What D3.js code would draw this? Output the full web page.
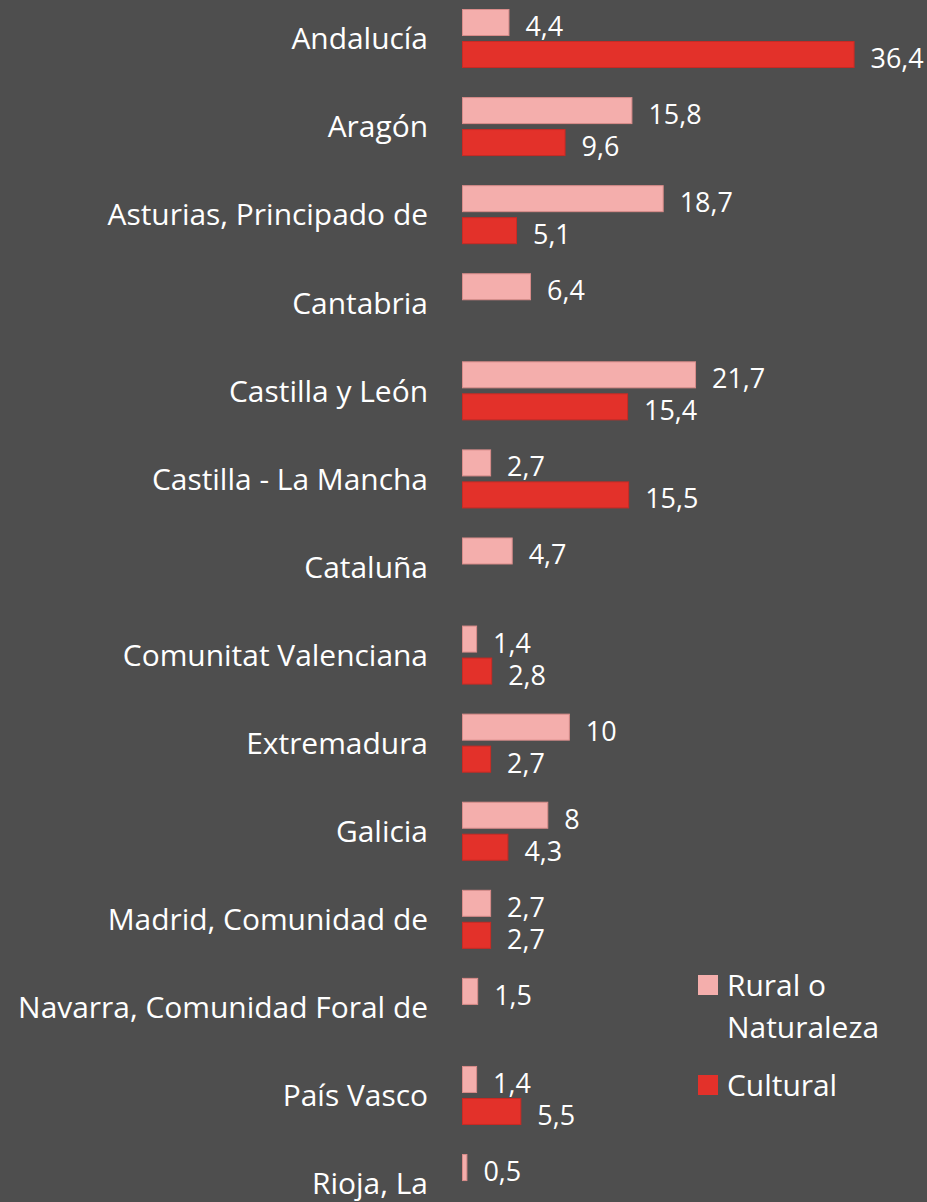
<!DOCTYPE html>
<html><head><meta charset="utf-8">
<script src="https://cdn.jsdelivr.net/npm/d3@7"></script>
<style>
html,body{margin:0;padding:0;background:#4e4e4e;}
svg{display:block;}
text{font-family:"Open Sans","Noto Sans",sans-serif;fill:#ffffff;}
</style></head>
<body>
<svg id="chart" width="927" height="1202"></svg>
<script>
const categories = ["Andalucía","Aragón","Asturias, Principado de","Cantabria","Castilla y León","Castilla - La Mancha","Cataluña","Comunitat Valenciana","Extremadura","Galicia","Madrid, Comunidad de","Navarra, Comunidad Foral de","País Vasco","Rioja, La"];
const seriesNames = ["Rural o Naturaleza","Cultural"];
const rural = [4.4,15.8,18.7,6.4,21.7,2.7,4.7,1.4,10,8,2.7,1.5,1.4,0.5];
const cultural = [36.4,9.6,5.1,null,15.4,15.5,null,2.8,2.7,4.3,2.7,null,5.5,null];
const colors = ["#f4aeac","#e3312a"];
const strokes = ["#d98c8a","#c92a24"];

const svg = d3.select("#chart");
const W = 927, H = 1202;
svg.append("rect").attr("width",W).attr("height",H).attr("fill","#4e4e4e");

const step = 88.08;
const y = d3.scaleBand().domain(categories)
  .range([9 - 0.165*step, 9 - 0.165*step + categories.length*step])
  .paddingInner(0.33).paddingOuter(0.165);
const ySub = d3.scaleBand().domain(seriesNames).range([0, y.bandwidth()]).paddingInner(0.156);
const x = d3.scaleLinear().domain([0,40]).range([462, 462 + 40*10.785]);

// measure font sizing
const probe = svg.append("text").attr("font-size",30).text(categories[11]);
const w30 = probe.node().getComputedTextLength();
probe.remove();
const catFs = 30 * 410 / w30;
const valFs = catFs * 0.9;

const data = categories.map((c,i)=>({cat:c, vals:[rural[i], cultural[i]]}));

const g = svg.append("g");
const groups = g.selectAll("g.cat").data(data).join("g")
  .attr("class","cat")
  .attr("transform", d=>`translate(0,${y(d.cat)})`);

groups.each(function(d){
  const sel = d3.select(this);
  d.vals.forEach((v,k)=>{
    if (v===null || v===undefined) return;
    const yy = ySub(seriesNames[k]);
    sel.append("rect")
      .attr("x", x(0)+0.5).attr("y", yy+0.5)
      .attr("width", x(v)-x(0)-1).attr("height", ySub.bandwidth()-1)
      .attr("fill", colors[k]).attr("stroke", strokes[k]).attr("stroke-width",1);
    sel.append("text")
      .attr("x", x(v)+16).attr("y", yy + ySub.bandwidth())
      .attr("font-size", valFs)
      .text(String(v).replace(".",","));
  });
});

// category axis labels
g.selectAll("text.catlabel").data(categories).join("text")
  .attr("class","catlabel")
  .attr("x",428)
  .attr("y", d=>y(d)+y.bandwidth()/2)
  .attr("dy","0.36em")
  .attr("text-anchor","end")
  .attr("font-size",catFs)
  .text(d=>d);

// legend
const legend = svg.append("g");
const legItems = [
  {name:seriesNames[0], lines:["Rural o","Naturaleza"], color:colors[0], sy:975},
  {name:seriesNames[1], lines:["Cultural"], color:colors[1], sy:1075}
];
legItems.forEach(it=>{
  legend.append("rect").attr("x",698).attr("y",it.sy).attr("width",20).attr("height",20).attr("fill",it.color);
  const t = legend.append("text").attr("x",727).attr("y",it.sy+21).attr("font-size",catFs);
  it.lines.forEach((l,j)=>{
    t.append("tspan").attr("x",727).attr("dy", j===0?0:42).text(l);
  });
});
</script>
</body></html>
